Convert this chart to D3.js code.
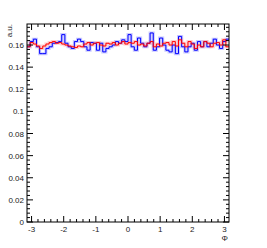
<!DOCTYPE html>
<html>
<head>
<meta charset="utf-8">
<script src="https://cdn.jsdelivr.net/npm/d3@7"></script>
<style>
  body { margin: 0; background: #fff; }
  svg text { font-family: "Liberation Sans", Arial, sans-serif; fill: #222; }
</style>
</head>
<body>
<svg id="chart" width="267" height="248"></svg>
<script>
// 64 bins over [-pi, pi]
const nBins = 64;
const blueValues = [
  0.1584, 0.1631, 0.1653, 0.1584, 0.1522, 0.1522, 0.1569, 0.1584, 0.1616, 0.1622,
  0.1631, 0.1694, 0.1616, 0.1584, 0.1569, 0.1631, 0.1653, 0.1631, 0.1584, 0.1553,
  0.1622, 0.1616, 0.1553, 0.1616, 0.1538, 0.1569, 0.1584, 0.1600, 0.1631, 0.1616,
  0.1647, 0.1631, 0.1694, 0.1584, 0.1553, 0.1663, 0.1616, 0.1584, 0.1616, 0.1709,
  0.1553, 0.1584, 0.1663, 0.1600, 0.1553, 0.1538, 0.1600, 0.1522, 0.1678, 0.1584,
  0.1538, 0.1584, 0.1616, 0.1553, 0.1631, 0.1584, 0.1631, 0.1584, 0.1616, 0.1653,
  0.1600, 0.1569, 0.1631, 0.1653
];
const redValues = [
  0.1584, 0.1622, 0.1609, 0.1591, 0.1569, 0.1591, 0.1609, 0.1622, 0.1631, 0.1616,
  0.1622, 0.1609, 0.1600, 0.1591, 0.1584, 0.1578, 0.1591, 0.1584, 0.1609, 0.1622,
  0.1600, 0.1616, 0.1622, 0.1600, 0.1591, 0.1616, 0.1609, 0.1622, 0.1600, 0.1616,
  0.1631, 0.1609, 0.1622, 0.1616, 0.1631, 0.1600, 0.1609, 0.1591, 0.1616, 0.1631,
  0.1584, 0.1609, 0.1591, 0.1616, 0.1622, 0.1600, 0.1631, 0.1591, 0.1647, 0.1616,
  0.1584, 0.1631, 0.1609, 0.1569, 0.1600, 0.1584, 0.1631, 0.1616, 0.1584, 0.1616,
  0.1622, 0.1600, 0.1647, 0.1584
];
const xTicks = [-3, -2, -1, 0, 1, 2, 3];
const yTicks = [0, 0.02, 0.04, 0.06, 0.08, 0.1, 0.12, 0.14, 0.16];
const xTitle = "\u03A6";
const yTitle = "a.u.";

const svg = d3.select("#chart");
const frame = { left: 27, right: 229, top: 24, bottom: 222 };

const x = d3.scaleLinear().domain([-Math.PI, Math.PI]).range([frame.left, frame.right]);
const y = d3.scaleLinear().domain([0, 0.179]).range([frame.bottom, frame.top]);

const binW = 2 * Math.PI / nBins;
function stepPoints(vals) {
  const pts = [];
  vals.forEach((v, i) => {
    const x0 = -Math.PI + i * binW;
    pts.push([x0, v], [x0 + binW, v]);
  });
  return pts;
}
const line = d3.line().x(d => x(d[0])).y(d => y(d[1]));

const plot = svg.append("g");
// light error band behind each curve
plot.append("path").attr("d", line(stepPoints(blueValues)))
  .attr("fill", "none").attr("stroke", "#b4b4ff").attr("stroke-width", 3).attr("opacity", 0.7);
plot.append("path").attr("d", line(stepPoints(redValues)))
  .attr("fill", "none").attr("stroke", "#ffb8b8").attr("stroke-width", 3).attr("opacity", 0.7);
plot.append("path").attr("d", line(stepPoints(blueValues)))
  .attr("fill", "none").attr("stroke", "#0000ff").attr("stroke-width", 1);
plot.append("path").attr("d", line(stepPoints(redValues)))
  .attr("fill", "none").attr("stroke", "#ff0000").attr("stroke-width", 1);

// frame
svg.append("rect").attr("x", frame.left).attr("y", frame.top)
  .attr("width", frame.right - frame.left).attr("height", frame.bottom - frame.top)
  .attr("fill", "none").attr("stroke", "#000").attr("stroke-width", 1);

// ticks, ROOT style (inside the frame, on all four sides)
const ticks = svg.append("g").attr("stroke", "#000").attr("stroke-width", 1);
const xMinor = d3.range(-3.2, 3.21, 0.2).filter(v => v >= -Math.PI && v <= Math.PI);
xMinor.forEach(v => {
  const major = Math.abs(v - Math.round(v)) < 1e-6;
  const len = major ? 6 : 3;
  ticks.append("line").attr("x1", x(v)).attr("x2", x(v)).attr("y1", frame.bottom).attr("y2", frame.bottom - len);
  ticks.append("line").attr("x1", x(v)).attr("x2", x(v)).attr("y1", frame.top).attr("y2", frame.top + len);
});
d3.range(0, 0.1791, 0.004).forEach(v => {
  const major = Math.abs(v / 0.02 - Math.round(v / 0.02)) < 1e-6;
  const len = major ? 6 : 3;
  ticks.append("line").attr("x1", frame.left).attr("x2", frame.left + len).attr("y1", y(v)).attr("y2", y(v));
  ticks.append("line").attr("x1", frame.right).attr("x2", frame.right - len).attr("y1", y(v)).attr("y2", y(v));
});

// labels
svg.append("g").selectAll("text").data(xTicks).join("text")
  .attr("x", d => x(d)).attr("y", frame.bottom + 10)
  .attr("text-anchor", "middle").attr("font-size", 8)
  .text(d => d);
svg.append("g").selectAll("text").data(yTicks).join("text")
  .attr("x", frame.left - 3).attr("y", d => y(d) + 3)
  .attr("text-anchor", "end").attr("font-size", 8)
  .text(d => d);

svg.append("text").attr("x", frame.right - 1).attr("y", 241)
  .attr("text-anchor", "end").attr("font-size", 8).text(xTitle);
svg.append("text").attr("transform", `translate(12,${frame.top}) rotate(-90)`)
  .attr("text-anchor", "end").attr("font-size", 8).text(yTitle);
</script>
</body>
</html>
